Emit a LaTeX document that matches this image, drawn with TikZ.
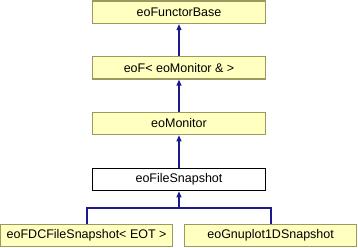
\documentclass[tikz,border=0pt]{standalone}
\usepackage{fontspec}
\setmainfont{Liberation Sans}
\usetikzlibrary{arrows.meta}
\definecolor{boxfill}{HTML}{FFFFC0}
\definecolor{boxline}{HTML}{9A9A60}
\definecolor{edgecol}{HTML}{1A1A8C}
\begin{document}
\begin{tikzpicture}[x=1pt,y=-1pt,
  cls/.style={draw=boxline,fill=boxfill,line width=1.2pt,minimum width=173pt,minimum height=22.5pt,inner sep=0pt,font=\fontsize{12.5}{14}\selectfont},
  cur/.style={cls,draw=black,fill=white},
  inh/.style={draw=edgecol,line width=1.1pt,-{Triangle[length=6pt,width=5pt]}}]
\useasboundingbox (0,0) rectangle (358,248);
\node[cls] (base) at (179,12.3) {eoFunctorBase};
\node[cls] (eof) at (179,67.8) {eoF< eoMonitor \& >};
\node[cls] (mon) at (179,123.5) {eoMonitor};
\node[cur] (snap) at (179,179.5) {eoFileSnapshot};
\node[cls,minimum width=172pt] (fdc) at (86.6,235.5) {eoFDCFileSnapshot< EOT >};
\node[cls,minimum width=172pt] (gnu) at (270.6,235.5) {eoGnuplot1DSnapshot};
\coordinate (j) at (179,208);
\draw[inh] (eof.north) -- (base.south);
\draw[inh] (mon.north) -- (eof.south);
\draw[inh] (snap.north) -- (mon.south);
\draw[edgecol,line width=1.1pt] (fdc.north -| 87,0) |- (j) -| (gnu.north -| 271,0);
\draw[inh] (j) -- (snap.south);
\end{tikzpicture}
\end{document}
